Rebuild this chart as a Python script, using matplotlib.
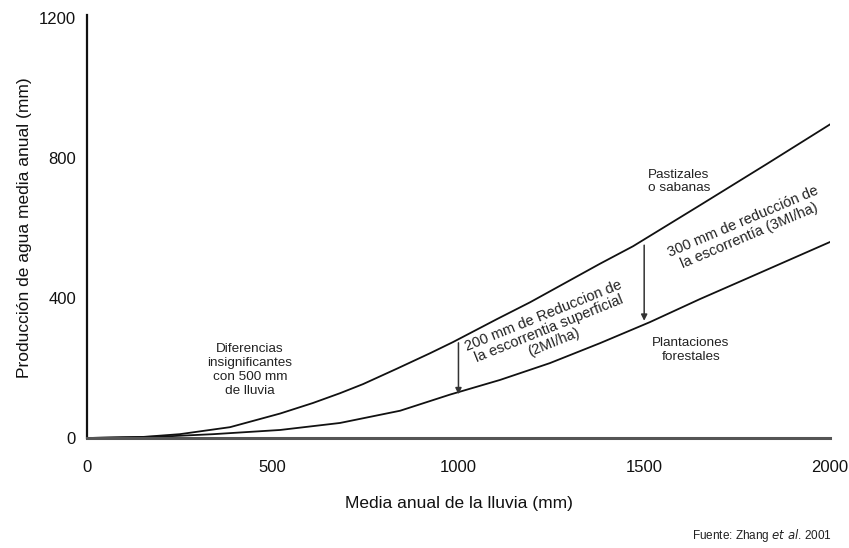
import matplotlib.pyplot as plt

plt.rcParams['font.family'] = ['Liberation Sans', 'DejaVu Sans']

# lluvia media anual (mm) vs producción de agua (mm)
pastizal_x = [0, 150, 250, 385, 520, 608, 681, 743, 834, 923, 985, 1104, 1193,
              1381, 1470, 1650, 1830, 2000]
pastizal_y = [0, 3, 11, 31, 70, 100, 128, 154, 198, 242, 274, 340, 388,
              498, 548, 665, 783, 896]
bosque_x = [0, 200, 340, 520, 681, 843, 977, 1112, 1246, 1381, 1515, 1650, 1777, 2000]
bosque_y = [0, 4, 11, 23, 43, 78, 124, 166, 214, 271, 331, 397, 456, 560]

xticks = [0, 500, 1000, 1500, 2000]
yticks = [0, 400, 800, 1200]

# flechas de reducción: (x, desde, hasta)
flechas = [(1000, 272, 125), (1500, 551, 335)]

fig = plt.figure(figsize=(8.49, 5.48), dpi=100)
ax = fig.add_axes([0.1025, 0.2007, 0.875, 0.7663])

ax.plot(pastizal_x, pastizal_y, color='#111111', lw=1.3)
ax.plot(bosque_x, bosque_y, color='#111111', lw=1.3)

for x, y0, y1 in flechas:
    ax.annotate('', xy=(x, y1), xytext=(x, y0),
                arrowprops=dict(arrowstyle='-|>', color='#333333', lw=1.1,
                                mutation_scale=9, shrinkA=0, shrinkB=0))

ax.set_xlim(0, 2000)
ax.set_ylim(0, 1200)
ax.set_xticks(xticks)
ax.set_yticks(yticks)
ax.tick_params(length=0, labelsize=12, colors='#111111')
ax.tick_params(axis='x', pad=16)
ax.tick_params(axis='y', pad=8)
for s in ['top', 'right']:
    ax.spines[s].set_visible(False)
ax.spines['left'].set_linewidth(1.6)
ax.spines['left'].set_color('#111111')
ax.spines['bottom'].set_linewidth(2.2)
ax.spines['bottom'].set_color('#555555')
ax.spines['left'].set_bounds(0, 1210)

ax.set_xlabel('Media anual de la lluvia (mm)', fontsize=12.5, labelpad=15, color='#111111')
ax.set_ylabel('Producción de agua media anual (mm)', fontsize=12.5, labelpad=5, color='#111111')

txt = dict(fontsize=9.7, color='#222222', linespacing=1.2)
ax.text(439, 194, 'Diferencias\ninsignificantes\ncon 500 mm\nde lluvia', ha='center', va='center', **txt)
ax.text(1510, 733, 'Pastizales\no sabanas', ha='left', va='center', **txt)
ax.text(1626, 252, 'Plantaciones\nforestales', ha='center', va='center', multialignment='center', **txt)
ax.text(1243, 312, '200 mm de Reduccion de\nla escorrentia superficial\n(2MI/ha)',
        ha='center', va='center', rotation=22, multialignment='center',
        fontsize=10.5, color='#222222', linespacing=1.05)
ax.text(1775, 598, '300 mm de reducción de\nla escorrentía (3MI/ha)',
        ha='center', va='center', rotation=23, multialignment='center',
        fontsize=10.5, color='#222222', linespacing=1.05)

fig.text(0.98, 0.022, 'Fuente: Zhang $\\it{et\\ al}$. 2001', ha='right', va='center',
         fontsize=8.5, color='#222222')

fig.savefig('out.png', dpi=100)
